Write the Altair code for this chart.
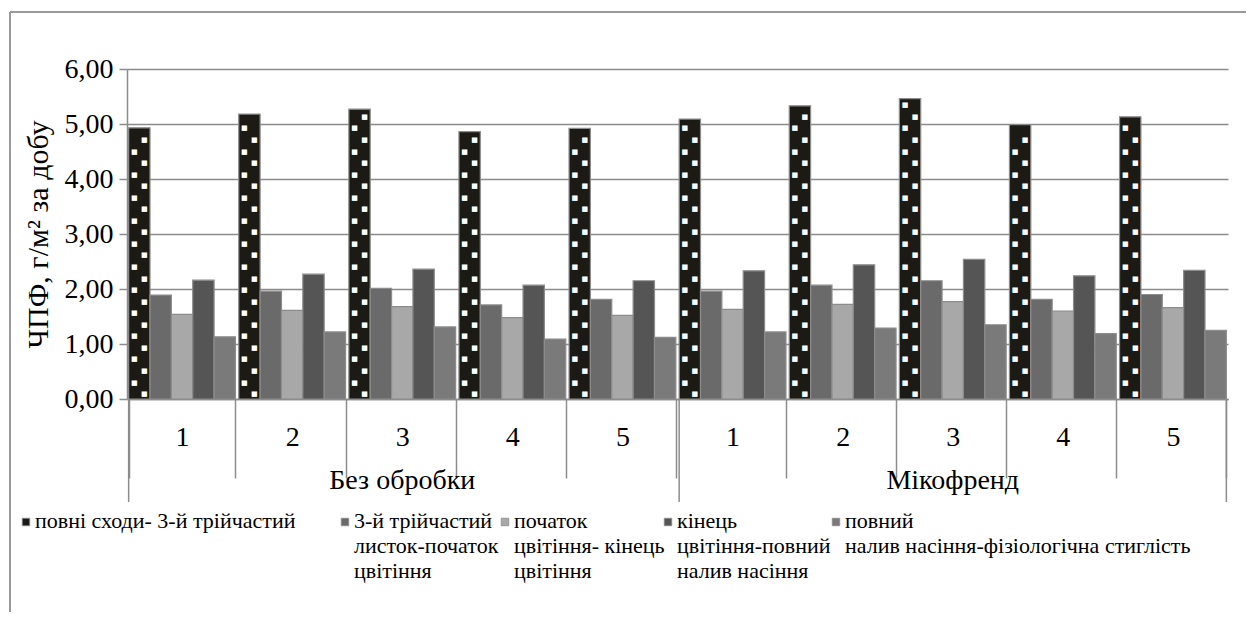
import altair as alt
import pandas as pd

# ---- data ----
treatments = ["Без обробки", "Мікофренд"]
variants = ["1", "2", "3", "4", "5"]
series = [
    "повні сходи- 3-й трійчастий",
    "3-й трійчастий\nлисток-початок\nцвітіння",
    "початок\nцвітіння- кінець\nцвітіння",
    "кінець\nцвітіння-повний\nналив насіння",
    "повний\nналив насіння-фізіологічна стиглість",
]
s1 = [4.93, 5.18, 5.27, 4.86, 4.92, 5.09, 5.33, 5.46, 4.99, 5.13]
s2 = [1.89, 1.96, 2.01, 1.71, 1.81, 1.96, 2.07, 2.15, 1.81, 1.90]
s3 = [1.54, 1.61, 1.68, 1.48, 1.52, 1.63, 1.72, 1.77, 1.60, 1.66]
s4 = [2.16, 2.27, 2.36, 2.07, 2.15, 2.33, 2.44, 2.54, 2.24, 2.34]
s5 = [1.13, 1.22, 1.31, 1.09, 1.12, 1.22, 1.29, 1.35, 1.19, 1.25]
y_title = "ЧПФ, г/м² за добу"
y_ticks = [0, 1, 2, 3, 4, 5, 6]

# ---- build table ----
cats = [f"{t}|{v}" for t in treatments for v in variants]
values = [s1, s2, s3, s4, s5]
rows = []
for si, name in enumerate(series):
    for ci, c in enumerate(cats):
        rows.append({"cat": c, "series": name, "value": values[si][ci]})
df = pd.DataFrame(rows)

# white dot texture for the first series (pattern derived from each bar's value)
dot_rows = []
for ci, c in enumerate(cats):
    k = 0
    while True:
        yv = 0.09 + 0.21 * k
        if yv > s1[ci] - 0.1:
            break
        dot_rows.append({"cat": c, "series": series[0], "y": yv, "col": "R" if k % 2 == 0 else "L"})
        k += 1
dots = pd.DataFrame(dot_rows)

W, H = 1101, 330
LEFT = 127  # page x of the plot's left edge
FONT = "Liberation Serif"
GRAY = "#8c8c8c"
fills = ["#1c1a14", "#6a6a6a", "#a8a8a8", "#555555", "#7a7a7a"]

xscale = alt.Scale(domain=cats, paddingInner=0.03, paddingOuter=0.015)
xoff_scale = alt.Scale(domain=series, paddingInner=0, paddingOuter=0)
fill_scale = alt.Scale(domain=series, range=fills)

x_axis = alt.Axis(
    title=None, labelExpr="split(datum.label, '|')[1]", labelAngle=0,
    labelFont=FONT, labelFontSize=28, labelColor="black", labelPadding=-55,
    tickBand="extent", tickSize=79, tickColor=GRAY, tickWidth=1.5,
    domainColor=GRAY, domainWidth=1.5, grid=False,
)
y_axis = alt.Axis(
    values=y_ticks, labelExpr="replace(format(datum.value, '.2f'), '.', ',')",
    labelFont=FONT, labelFontSize=28, labelColor="black", labelPadding=6,
    tickSize=8, tickColor=GRAY, tickWidth=1.5, domainColor=GRAY, domainWidth=1.5,
    gridColor=GRAY, gridWidth=1.5, title=y_title, titleFont=FONT,
    titleFontSize=30, titleFontWeight="normal", titleColor="black", titlePadding=11,
)

bars = alt.Chart(df).mark_bar(stroke=GRAY, strokeWidth=1.2).encode(
    x=alt.X("cat:N", scale=xscale, axis=x_axis, sort=cats),
    xOffset=alt.XOffset("series:N", scale=xoff_scale, sort=series),
    y=alt.Y("value:Q", scale=alt.Scale(domain=[0, 6]), axis=y_axis),
    fill=alt.Fill("series:N", sort=series, scale=fill_scale, legend=None),
)

def dot_layer(col, dx):
    return alt.Chart(dots).transform_filter(alt.datum.col == col).mark_text(
        text="■", font="DejaVu Sans", fontSize=7, color="white", dx=dx, baseline="middle"
    ).encode(
        x=alt.X("cat:N", scale=xscale, sort=cats),
        xOffset=alt.XOffset("series:N", scale=xoff_scale, sort=series),
        y=alt.Y("y:Q"),
    )

# long separators at the ends of the two treatment groups
sep_start = alt.Chart(pd.DataFrame({"cat": [cats[0], cats[5]]})).mark_rule(
    color=GRAY, strokeWidth=1.5
).encode(
    x=alt.X("cat:N", scale=xscale, sort=cats, bandPosition=0),
    y=alt.value(H), y2=alt.value(H + 103),
)
sep_end = alt.Chart(pd.DataFrame({"cat": [cats[-1]]})).mark_rule(
    color=GRAY, strokeWidth=1.5
).encode(
    x=alt.X("cat:N", scale=xscale, sort=cats, bandPosition=1),
    y=alt.value(H), y2=alt.value(H + 103),
)

group_labels = alt.Chart(
    pd.DataFrame({"cat": [cats[2], cats[7]], "label": treatments})
).mark_text(font=FONT, fontSize=28, color="black", baseline="middle").encode(
    x=alt.X("cat:N", scale=xscale, sort=cats),
    text="label:N",
    y=alt.value(H + 82),
)

# legend (Excel-style row under the axis; one entry per series)
legend_sym_x = [26, 345, 505, 668, 836]   # page x of each legend swatch
legend_layers = []
for i, name in enumerate(series):
    d = pd.DataFrame({"series": [name]})
    legend_layers.append(
        alt.Chart(d).mark_square(size=56, opacity=1, stroke=GRAY, strokeWidth=0.8).encode(
            x=alt.value(legend_sym_x[i] - LEFT), y=alt.value(H + 123),
            fill=alt.Fill("series:N", scale=fill_scale, legend=None),
        )
    )
    legend_layers.append(
        alt.Chart(d).mark_text(
            font=FONT, fontSize=22, color="black", align="left", baseline="top",
            lineBreak="\n", lineHeight=25,
        ).encode(
            x=alt.value(legend_sym_x[i] - LEFT + 9), y=alt.value(H + 112),
            text="series:N",
        )
    )

# outer frame (left and top edges visible in the reference)
frame_left = alt.Chart(pd.DataFrame({"a": [0]})).mark_rule(color="#9a9a9a", strokeWidth=2).encode(
    x=alt.value(-117), y=alt.value(-57), y2=alt.value(H + 300)
)
frame_top = alt.Chart(pd.DataFrame({"a": [0]})).mark_rule(color="#9a9a9a", strokeWidth=2).encode(
    x=alt.value(-117), x2=alt.value(W + 200), y=alt.value(-57)
)

chart = alt.layer(
    frame_left, frame_top, bars, dot_layer("L", -5), dot_layer("R", 5),
    sep_start, sep_end, group_labels, *legend_layers,
).properties(
    width=W, height=H,
    autosize=alt.AutoSizeParams(type="none"),
    padding={"left": 119, "top": 61, "right": 18, "bottom": 213},
).configure(
    background="white", font=FONT
).configure_view(stroke=None).configure_axis(
    labelFont=FONT, titleFont=FONT
)

chart.save("out.html", embed_options={"renderer": "svg", "actions": False})
